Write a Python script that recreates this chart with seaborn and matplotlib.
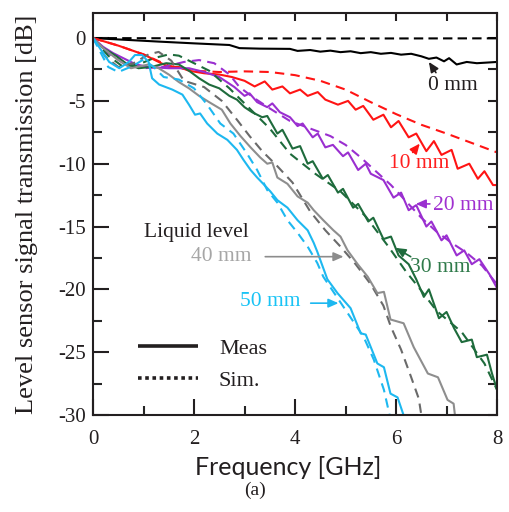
import numpy as np
import pandas as pd
import matplotlib
matplotlib.use("Agg")
import matplotlib.pyplot as plt
from matplotlib.ticker import MultipleLocator
from matplotlib.lines import Line2D
import seaborn as sns

# ---- measured / simulated transmission vs frequency, per liquid level ----
f_0_meas = [0, 0.7, 1.3, 2.0, 2.7, 2.9, 3.3, 3.9, 4.05, 4.3, 4.5, 4.7, 4.9, 5.1, 5.3, 5.5, 5.7,
            5.9, 6.1, 6.3, 6.5, 6.65, 6.8, 6.95, 7.05, 7.2, 7.4, 7.6, 7.8, 8.0]
db_0_meas = [0, -0.15, -0.28, -0.42, -0.55, -0.8, -0.84, -0.86, -1.02, -0.95, -1.08, -1.0, -1.12,
             -1.05, -1.2, -1.12, -1.25, -1.18, -1.32, -1.25, -1.45, -1.65, -1.55, -1.85, -1.6,
             -2.1, -1.9, -2.0, -1.95, -1.9]
f_0_sim = [0, 2, 4, 6, 8]
db_0_sim = [0, -0.02, -0.03, -0.03, -0.02]

f_10_meas = [0, 0.5, 1.0, 1.3, 1.5, 1.7, 1.9, 2.2, 2.5, 2.75, 3.0, 3.2, 3.4, 3.55, 3.75, 3.9, 4.1,
             4.25, 4.45, 4.6, 4.85, 5.05, 5.2, 5.35, 5.55, 5.75, 5.9, 6.05, 6.25, 6.4, 6.6, 6.75,
             6.9, 7.1, 7.22, 7.45, 7.62, 7.75, 7.92, 8.0]
db_10_meas = [0, -0.6, -1.3, -1.9, -2.3, -2.3, -2.6, -2.8, -2.9, -3.1, -3.4, -3.85, -3.45, -4.1,
              -3.85, -4.4, -4.1, -4.6, -4.3, -4.9, -5.3, -5.0, -5.7, -5.4, -6.5, -6.1, -7.1, -6.6,
              -7.9, -7.6, -9.0, -8.2, -9.3, -8.9, -10.4, -10.0, -11.2, -10.6, -11.7, -11.7]
f_10_sim = [0, 0.5, 1.0, 1.5, 2.0, 2.5, 3.0, 3.5, 4.0, 4.5, 5.0, 5.5, 6.0, 6.5, 7.0, 7.5, 8.0]
db_10_sim = [0, -0.6, -1.3, -2.2, -2.6, -2.7, -2.65, -2.7, -2.95, -3.4, -4.1, -5.1, -6.05, -6.9,
             -7.6, -8.35, -9.1]

f_20_meas = [0, 0.2, 0.4, 0.6, 0.85, 1.1, 1.5, 1.9, 2.2, 2.5, 2.8, 3.0, 3.1, 3.25, 3.45, 3.55,
             3.7, 3.9, 4.05, 4.15, 4.35, 4.45, 4.6, 4.75, 4.95, 5.05, 5.25, 5.4, 5.5, 5.75, 5.95,
             6.1, 6.25, 6.4, 6.6, 6.7, 6.9, 7.0, 7.2, 7.35, 7.5, 7.65, 7.85, 8.0]
db_20_meas = [0, -0.7, -1.2, -1.6, -2.1, -2.3, -2.4, -2.4, -2.7, -3.1, -3.9, -4.6, -4.4, -5.1,
              -5.5, -5.2, -5.9, -6.3, -7.0, -6.8, -7.9, -7.6, -8.7, -8.5, -9.4, -9.1, -10.5,
              -10.0, -10.8, -11.3, -12.7, -12.3, -13.7, -13.3, -15.0, -14.6, -16.1, -15.7,
              -17.3, -16.9, -18.0, -17.6, -18.8, -19.9]
f_20_sim = [0, 0.3, 0.6, 1.0, 1.4, 1.8, 2.1, 2.4, 2.7, 2.9, 3.2, 3.5, 3.9, 4.3, 4.7, 5.0, 5.3,
            5.6, 5.9, 6.2, 6.5, 6.8, 7.1, 7.4, 7.7, 8.0]
db_20_sim = [0, -1.2, -2.0, -2.4, -2.3, -1.9, -1.75, -2.0, -2.9, -3.9, -4.8, -5.6, -6.6, -7.2,
             -7.8, -8.5, -9.5, -10.6, -11.7, -13.0, -14.3, -15.4, -16.3, -17.1, -18.1, -19.6]

f_30_meas = [0, 0.2, 0.45, 0.65, 0.9, 1.15, 1.45, 1.7, 1.9, 2.1, 2.3, 2.5, 2.7, 2.85, 3.0, 3.15,
             3.35, 3.45, 3.65, 3.75, 3.95, 4.1, 4.25, 4.35, 4.55, 4.65, 4.85, 4.95, 5.15, 5.25,
             5.45, 5.55, 5.75, 5.9, 6.05, 6.25, 6.4, 6.55, 6.65, 6.85, 7.0, 7.15, 7.3, 7.5, 7.6,
             7.8, 7.9, 8.0]
db_30_meas = [0, -0.8, -1.4, -2.0, -2.4, -2.3, -2.0, -2.1, -2.6, -3.2, -3.7, -4.0, -4.6, -4.9,
              -5.5, -5.9, -6.3, -6.2, -7.6, -7.3, -8.8, -8.6, -10.0, -9.8, -11.2, -10.9, -12.3,
              -12.0, -13.5, -13.2, -14.6, -14.3, -16.0, -15.8, -17.3, -18.0, -19.2, -20.6, -20.0,
              -22.3, -21.8, -23.1, -24.2, -24.0, -25.4, -25.2, -26.7, -28.0]
f_30_sim = [0, 0.3, 0.6, 0.9, 1.2, 1.5, 1.7, 1.95, 2.3, 2.7, 3.2, 3.5, 3.9, 4.4, 4.9, 5.4, 5.85,
            6.2, 6.5, 6.8, 7.3, 7.75, 8.0]
db_30_sim = [0, -1.4, -2.3, -2.1, -1.6, -1.3, -1.4, -1.9, -2.6, -4.0, -6.0, -7.2, -9.2, -10.8,
             -12.2, -14.2, -16.6, -18.6, -20.1, -21.7, -23.4, -25.9, -28.0]

f_40_meas = [0, 0.2, 0.45, 0.75, 1.1, 1.3, 1.5, 1.7, 1.9, 2.1, 2.3, 2.55, 2.72, 2.92, 3.12, 3.31,
             3.45, 3.55, 3.65, 3.85, 4.05, 4.25, 4.37, 4.56, 4.76, 4.9, 5.04, 5.24, 5.44, 5.63,
             5.76, 5.89, 6.15, 6.35, 6.63, 6.83, 7.02, 7.14, 7.18]
db_40_meas = [0, -0.8, -1.6, -2.4, -2.1, -2.4, -2.9, -3.5, -4.0, -4.6, -5.1, -5.7, -6.8, -7.8,
              -8.7, -9.5, -10.0, -9.9, -11.1, -11.6, -12.6, -13.1, -13.7, -14.5, -15.3, -15.8,
              -16.9, -18.0, -19.0, -20.3, -20.2, -22.4, -22.7, -24.6, -26.7, -27.0, -28.8,
              -29.1, -30.5]
f_40_sim = [0, 0.25, 0.5, 0.8, 1.1, 1.3, 1.55, 1.8, 2.2, 2.55, 2.85, 3.1, 3.35, 3.65, 3.95, 4.3,
            4.6, 4.9, 5.2, 5.5, 5.75, 5.9, 6.1, 6.3, 6.45, 6.52]
db_40_sim = [0, -1.5, -2.3, -2.0, -1.3, -1.1, -1.8, -3.4, -3.9, -5.0, -6.5, -7.8, -9.0, -10.2,
             -11.5, -13.8, -15.3, -16.6, -18.0, -19.6, -21.3, -23.0, -24.8, -27.0, -28.7, -30.5]

f_50_meas = [0, 0.32, 0.52, 0.71, 0.83, 0.97, 1.1, 1.17, 1.31, 1.57, 1.77, 1.9, 2.02, 2.12, 2.26,
             2.46, 2.66, 2.85, 2.98, 3.12, 3.25, 3.37, 3.51, 3.65, 3.85, 4.05, 4.25, 4.37, 4.44,
             4.64, 4.84, 5.1, 5.3, 5.4, 5.63, 5.76, 5.89, 6.03, 6.19]
db_50_meas = [0, -1.9, -2.4, -1.9, -1.35, -1.35, -1.9, -3.2, -3.7, -4.1, -4.5, -5.3, -6.1, -6.0,
              -6.8, -7.6, -8.1, -8.9, -9.7, -10.5, -11.1, -11.6, -12.2, -12.9, -13.5, -14.5,
              -15.3, -16.3, -17.0, -19.2, -20.3, -21.5, -23.5, -23.6, -25.9, -26.2, -28.3,
              -28.6, -30.5]
f_50_sim = [0, 0.3, 0.5, 0.8, 1.0, 1.2, 1.4, 1.7, 2.0, 2.26, 2.52, 2.78, 3.05, 3.25, 3.45, 3.65,
            3.85, 4.05, 4.25, 4.44, 4.56, 4.96, 5.36, 5.56, 5.76, 5.9]
db_50_sim = [0, -2.3, -2.7, -2.2, -1.7, -2.3, -3.1, -3.3, -4.0, -5.3, -6.8, -7.6, -9.2, -10.5,
             -12.1, -13.1, -14.5, -15.5, -16.6, -17.9, -19.0, -21.4, -23.8, -25.6, -28.0, -30.5]

levels = ["0 mm", "10 mm", "20 mm", "30 mm", "40 mm", "50 mm"]
meas_f = [f_0_meas, f_10_meas, f_20_meas, f_30_meas, f_40_meas, f_50_meas]
meas_db = [db_0_meas, db_10_meas, db_20_meas, db_30_meas, db_40_meas, db_50_meas]
sim_f = [f_0_sim, f_10_sim, f_20_sim, f_30_sim, f_40_sim, f_50_sim]
sim_db = [db_0_sim, db_10_sim, db_20_sim, db_30_sim, db_40_sim, db_50_sim]

meas_colors = ["#000000", "#FF1414", "#9A2FD0", "#1E6B3C", "#8E8E8E", "#1DB8F0"]
sim_colors = ["#000000", "#FF1414", "#9A2FD0", "#1E6B3C", "#6A6A6A", "#1DB8F0"]
label_colors = ["#231F20", "#FF1F1F", "#A030D0", "#2F7A4A", "#A6A6A6", "#19C3F5"]

sns.set_theme(style="white")
plt.rcParams["font.family"] = ["Liberation Serif", "DejaVu Serif"]
plt.rcParams["axes.unicode_minus"] = False

fig = plt.figure(figsize=(5.10, 5.12), dpi=100)
ax = fig.add_axes([0.1824, 0.1895, 0.7922, 0.7852])

for i, lev in enumerate(levels):
    df_s = pd.DataFrame({"f": sim_f[i], "db": sim_db[i]})
    dash = (0, (4.5, 2.5)) if i == 0 else (0, (4.5, 3))
    sns.lineplot(data=df_s, x="f", y="db", ax=ax, color=sim_colors[i], lw=1.5,
                 linestyle=dash, estimator=None, sort=False)
    df_m = pd.DataFrame({"f": meas_f[i], "db": meas_db[i]})
    sns.lineplot(data=df_m, x="f", y="db", ax=ax, color=meas_colors[i], lw=1.5,
                 estimator=None, sort=False)

ax.set_xlim(0, 8)
ax.set_ylim(-30, 2)
ax.xaxis.set_major_locator(MultipleLocator(2))
ax.xaxis.set_minor_locator(MultipleLocator(1))
ax.yaxis.set_major_locator(MultipleLocator(5))
ax.yaxis.set_minor_locator(MultipleLocator(2.5))
ax.tick_params(which="major", direction="in", length=11.5, width=1.5, labelsize=15,
               colors="#231F20", bottom=True, left=True, top=False, right=False)
ax.tick_params(which="minor", direction="in", length=6.5, width=1.5,
               bottom=True, left=True, top=False, right=False)
ax.tick_params(axis="x", pad=11)
ax.tick_params(axis="y", pad=5)
for sp in ax.spines.values():
    sp.set_linewidth(1.5)
    sp.set_color("#231F20")

# top / right ticks without labels
sx = ax.secondary_xaxis("top")
sx.set_xticks(np.arange(0, 9, 1))
sx.tick_params(direction="in", length=6, width=1.5, labeltop=False, colors="#231F20")
sy = ax.secondary_yaxis("right")
sy.set_yticks(np.arange(-30, 2, 2.5))
sy.tick_params(direction="in", length=6.5, width=1.5, labelright=False, colors="#231F20")

ax.set_xlabel("Frequency [GHz]", fontsize=18, family="Lato", color="#231F20")
ax.set_ylabel("Level sensor signal transmission [dB]", fontsize=19, color="#231F20")
ax.xaxis.set_label_coords(0.483, -0.102)
ax.yaxis.set_label_coords(-0.163, 0.5)
ax.yaxis.label.set_va("center")

txt_kw = dict(fontsize=15.5, ha="center", va="center")
arrow_kw = dict(arrowstyle="-|>,head_length=0.5,head_width=0.22", lw=1.2,
                shrinkA=0, shrinkB=0)

ax.text(7.12, -3.8, "0 mm", color=label_colors[0], **txt_kw)
ax.annotate("", xy=(6.65, -1.9), xytext=(6.79, -2.75),
            arrowprops=dict(color="#231F20", **arrow_kw))
ax.text(6.45, -9.95, "10 mm", color=label_colors[1], **txt_kw)
ax.annotate("", xy=(6.47, -8.4), xytext=(6.33, -9.1),
            arrowprops=dict(color=meas_colors[1], **arrow_kw))
ax.text(7.34, -13.3, "20 mm", color=label_colors[2], **txt_kw)
ax.annotate("", xy=(6.39, -13.2), xytext=(6.67, -13.2),
            arrowprops=dict(color=meas_colors[2], **arrow_kw))
ax.text(6.88, -18.3, "30 mm", color=label_colors[3], **txt_kw)
ax.annotate("", xy=(5.99, -16.7), xytext=(6.29, -17.4),
            arrowprops=dict(color=meas_colors[3], **arrow_kw))
ax.text(2.04, -15.5, "Liquid level", color="#231F20", **txt_kw)
ax.text(2.54, -17.4, "40 mm", color=label_colors[4], **txt_kw)
ax.annotate("", xy=(4.96, -17.4), xytext=(3.41, -17.4),
            arrowprops=dict(color="#8C8C8C", **arrow_kw))
ax.text(3.51, -21.0, "50 mm", color=label_colors[5], **txt_kw)
ax.annotate("", xy=(4.86, -21.1), xytext=(4.31, -21.1),
            arrowprops=dict(color=meas_colors[5], **arrow_kw))

handles = [Line2D([], [], color="#231F20", lw=2.6, solid_capstyle="butt"),
           Line2D([], [], color="#231F20", lw=2.6, linestyle=(0, (1, 1)),
                  dash_capstyle="butt")]
ax.legend(handles, ["Meas", "Sim."], loc="upper left", bbox_to_anchor=(0.111, 0.19),
          frameon=False, fontsize=16, handlelength=2.7, handletextpad=0.95,
          labelspacing=0.5, borderpad=0, borderaxespad=0, labelcolor="#231F20")

fig.text(0.5, 0.043, "(a)", fontsize=14, ha="center", va="center", color="#231F20")

fig.savefig("out.png", dpi=100)
